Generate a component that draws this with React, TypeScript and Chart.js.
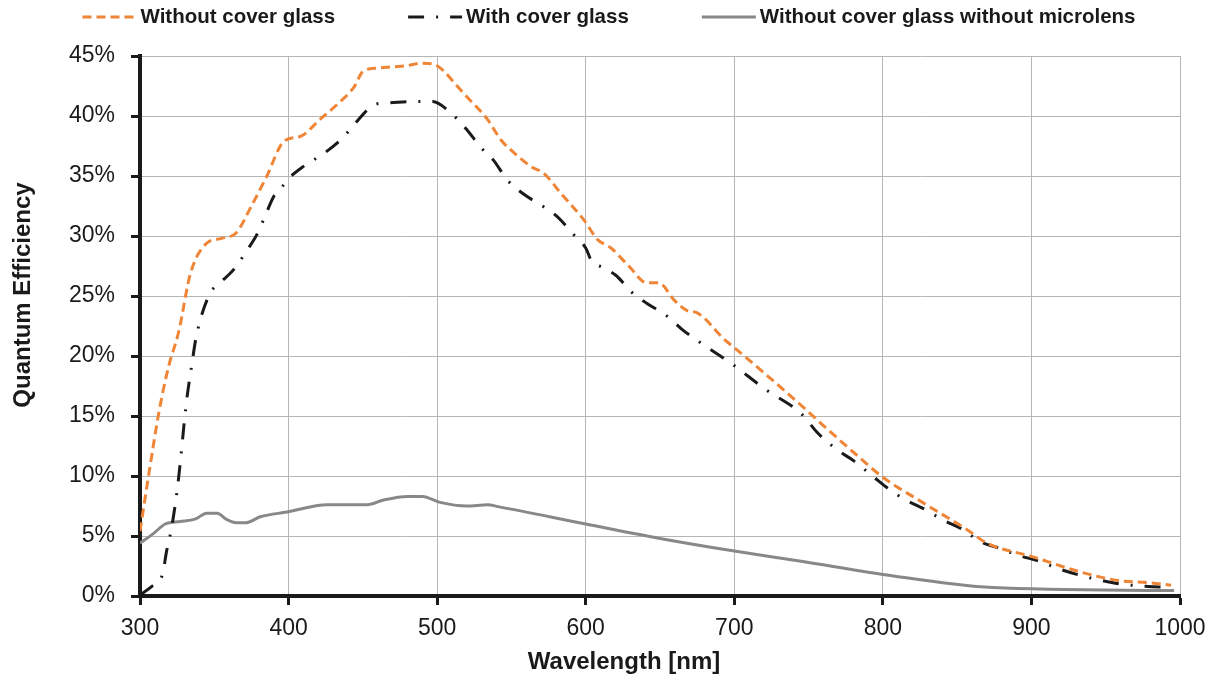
import React, { useEffect, useRef } from 'react';
import { Chart, registerables } from 'chart.js';

Chart.register(...registerables);

// ---- Data ----
const seriesLabels = [
  'Without cover glass',
  'With cover glass',
  'Without cover glass without microlens',
];

const wlWithout = [300, 307, 313, 319, 326, 334, 345, 355, 365, 375, 385, 397, 408, 421, 433, 444, 450, 460, 471, 480, 489, 498, 504, 512, 520, 534, 543, 553, 563, 572, 583, 599, 608, 617, 629, 641, 649, 660, 668, 675, 694, 700, 720, 744, 760, 780, 800, 828, 857, 870, 900, 933, 958, 980, 994];
const qeWithout = [5.4, 11, 15.5, 19, 22, 26.9, 29.4, 29.8, 30.3, 32.5, 34.9, 37.9, 38.3, 39.7, 41, 42.4, 43.7, 44, 44.1, 44.2, 44.4, 44.3, 43.8, 42.7, 41.6, 39.7, 38, 36.8, 35.8, 35.2, 33.6, 31.3, 29.7, 29, 27.5, 26.1, 26.1, 24.6, 23.8, 23.6, 21.3, 20.7, 18.6, 16, 14.2, 12, 9.9, 7.7, 5.5, 4.4, 3.3, 2.0, 1.3, 1.1, 0.9];

const wlWith = [300, 308, 315, 318, 321, 325, 327, 331, 335, 338, 347, 353, 363, 372, 379, 385, 390, 395, 401, 410, 424, 435, 445, 453, 459, 468, 484, 497, 507, 519, 530, 538, 547, 557, 572, 581, 592, 600, 604, 611, 620, 632, 641, 655, 665, 675, 700, 720, 745, 756, 769, 780, 794, 802, 814, 827, 841, 853, 866, 878, 891, 905, 920, 932, 947, 960, 978, 994];
const qeWith = [0.1, 0.8, 1.75, 3.8, 5.5, 8.8, 11, 15.9, 19.4, 21.7, 25.2, 26, 27.2, 28.8, 30.2, 31.9, 33.3, 34, 34.9, 35.8, 36.9, 38, 39.4, 40.5, 41, 41.1, 41.2, 41.2, 40.5, 39, 37.3, 36.3, 34.7, 33.6, 32.4, 31.6, 30.1, 29, 27.9, 27.4, 26.75, 25.2, 24.4, 23.3, 22.2, 21.3, 19.2, 17.3, 15.2, 13.6, 12.2, 11.3, 9.9, 9.1, 8.1, 7.3, 6.3, 5.6, 4.5, 4.0, 3.4, 2.9, 2.2, 1.75, 1.3, 1.0, 0.8, 0.7];

const wlMicro = [300, 309, 317, 327, 337, 345, 352, 358, 365, 371, 381, 399, 426, 453, 464, 480, 490, 502, 520, 534, 541, 600, 650, 700, 745, 800, 874, 996];
const qeMicro = [4.4, 5.2, 6.0, 6.2, 6.4, 6.9, 6.9, 6.4, 6.1, 6.1, 6.6, 7.0, 7.6, 7.6, 8.0, 8.3, 8.3, 7.8, 7.5, 7.6, 7.45, 6.0, 4.8, 3.75, 2.9, 1.8, 0.7, 0.45];

const xTicks = [300, 400, 500, 600, 700, 800, 900, 1000];
const yTicks = [0, 5, 10, 15, 20, 25, 30, 35, 40, 45];

const xTitle = 'Wavelength [nm]';
const yTitle = 'Quantum Efficiency';

const FONT = '"Liberation Sans", Arial, sans-serif';
const INK = '#1a1a1a';

const toPoints = (xs: number[], ys: number[]) => xs.map((x, i) => ({ x, y: ys[i] }));

const textPlugin = {
  id: 'customText',
  afterDraw(chart: any) {
    const ctx = chart.ctx as CanvasRenderingContext2D;
    ctx.save();
    // Legend
    ctx.font = `bold 20.5px ${FONT}`;
    const items = chart.data.datasets.map((ds: any) => ({
      label: ds.label,
      color: ds.borderColor,
      dash: ds.borderDash || [],
      width: ds.borderWidth,
      tw: ctx.measureText(ds.label).width,
    }));
    const sample = 54;
    const gapText = 4;
    const gapItem = 73;
    const total =
      items.reduce((s: number, it: any) => s + sample + gapText + it.tw, 0) +
      gapItem * (items.length - 1);
    let x = (chart.width - total) / 2;
    const ly = 17;
    items.forEach((it: any) => {
      ctx.beginPath();
      ctx.setLineDash(it.dash);
      ctx.lineCap = 'butt';
      ctx.strokeStyle = it.color;
      ctx.lineWidth = it.width;
      ctx.moveTo(x, ly);
      ctx.lineTo(x + sample, ly);
      ctx.stroke();
      ctx.setLineDash([]);
      ctx.fillStyle = INK;
      ctx.textAlign = 'left';
      ctx.textBaseline = 'middle';
      ctx.fillText(it.label, x + sample + gapText, 17);
      x += sample + gapText + it.tw + gapItem;
    });

    // Axis titles
    ctx.font = `bold 24px ${FONT}`;
    ctx.fillStyle = INK;
    ctx.textAlign = 'center';
    ctx.textBaseline = 'middle';
    ctx.fillText(xTitle, 624, 662);

    ctx.translate(23, 295);
    ctx.rotate(-Math.PI / 2);
    ctx.fillText(yTitle, 0, 0);
    ctx.restore();
  },
};

export default function App() {
  const canvasRef = useRef<HTMLCanvasElement | null>(null);

  useEffect(() => {
    document.body.style.margin = '0';
    const canvas = canvasRef.current;
    if (!canvas) return;

    const chart = new Chart(canvas, {
      type: 'line',
      data: {
        datasets: [
          {
            label: seriesLabels[0],
            data: toPoints(wlWithout, qeWithout),
            borderColor: '#ef8536',
            backgroundColor: '#ef8536',
            borderWidth: 3,
            borderDash: [9, 5],
            pointRadius: 0,
            fill: false,
            cubicInterpolationMode: 'monotone',
          },
          {
            label: seriesLabels[1],
            data: toPoints(wlWith, qeWith),
            borderColor: '#1a1a1a',
            backgroundColor: '#1a1a1a',
            borderWidth: 3,
            borderDash: [16, 12, 2, 12],
            pointRadius: 0,
            fill: false,
            cubicInterpolationMode: 'monotone',
          },
          {
            label: seriesLabels[2],
            data: toPoints(wlMicro, qeMicro),
            borderColor: '#888889',
            backgroundColor: '#888889',
            borderWidth: 3,
            pointRadius: 0,
            fill: false,
            cubicInterpolationMode: 'monotone',
          },
        ],
      },
      options: {
        responsive: false,
        animation: false,
        devicePixelRatio: 1,
        layout: { padding: { top: 56, right: 38, bottom: 0, left: 0 } },
        plugins: {
          legend: { display: false },
          tooltip: { enabled: false },
        },
        scales: {
          x: {
            type: 'linear',
            min: 300,
            max: 1000,
            afterBuildTicks: (s: any) => {
              s.ticks = xTicks.map((v) => ({ value: v }));
            },
            afterFit: (s: any) => {
              s.height = 85;
            },
            ticks: {
              font: { family: FONT, size: 23 },
              color: INK,
              padding: 10,
              maxRotation: 0,
              autoSkip: false,
              callback: (v: any) => String(v),
            },
            grid: {
              color: '#b5b5b5',
              lineWidth: 1,
              tickColor: INK,
              tickWidth: 3,
              tickLength: 9,
              drawTicks: true,
            },
            border: { display: true, color: INK, width: 4 },
          },
          y: {
            type: 'linear',
            min: 0,
            max: 45,
            afterBuildTicks: (s: any) => {
              s.ticks = yTicks.map((v) => ({ value: v }));
            },
            afterFit: (s: any) => {
              s.width = 140;
            },
            ticks: {
              font: { family: FONT, size: 23 },
              color: INK,
              padding: 16,
              autoSkip: false,
              callback: (v: any) => `${v}%`,
            },
            grid: {
              color: '#b5b5b5',
              lineWidth: 1,
              tickColor: INK,
              tickWidth: 3,
              tickLength: 9,
              drawTicks: true,
            },
            border: { display: true, color: INK, width: 4 },
          },
        },
      },
      plugins: [textPlugin],
    } as any);

    return () => {
      chart.destroy();
    };
  }, []);

  return (
    <div style={{ width: 1218, height: 681, position: 'relative', background: '#fff' }}>
      <canvas ref={canvasRef} width={1218} height={681} />
    </div>
  );
}
